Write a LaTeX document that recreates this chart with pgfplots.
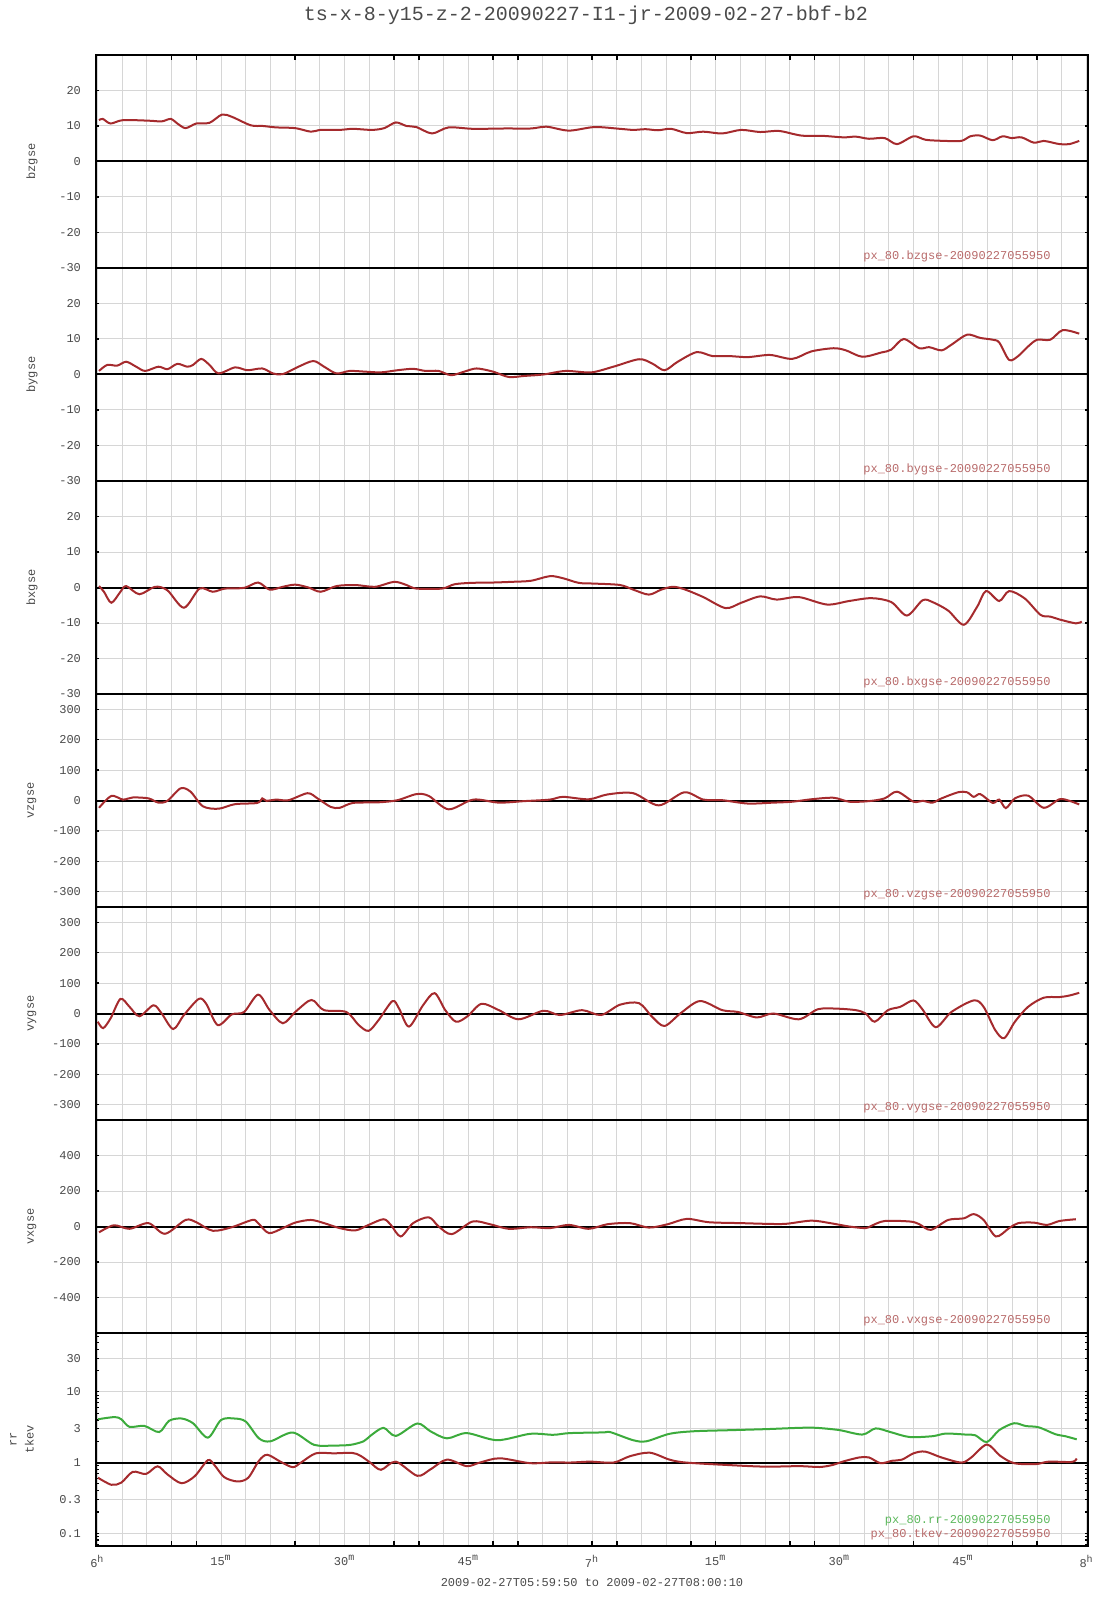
\documentclass[border=0pt]{standalone}
\usepackage{fontspec}
\setmainfont{Liberation Mono}
\usepackage{pgfplots}
\pgfplotsset{compat=1.18}
\definecolor{cred}{HTML}{A52A2D}
\definecolor{cgreen}{HTML}{3CAB3C}
\definecolor{lred}{HTML}{B86A6A}
\definecolor{lgreen}{HTML}{5CB85C}
\definecolor{gridc}{HTML}{D6D6D6}
\definecolor{txt}{HTML}{4A4A4A}
\newcommand{\tf}{\fontsize{6}{8.5}\selectfont}
\tikzset{leg/.style={anchor=east, font=\tf, text=lred, inner sep=0pt}}
\pgfplotsset{
  panel/.style={
    scale only axis, width=496pt, height=106.5pt,
    xmin=-0.1667, xmax=120.1667,
    xtick={0,3,...,120}, xticklabels={},
    grid=major, major grid style={gridc, line width=0.5pt},
    axis line style={black, line width=0.9pt},
    xtick style={draw=none},
    ytick style={black, line width=0.6pt},
    major tick length=1.5pt, minor tick length=1.5pt,
    tick align=inside,
    yticklabel style={font=\tf, text=txt, xshift=-4pt},
    /pgf/number format/assume math mode=true,
    every axis y label/.style={at={(rel axis cs:0,0.5)}, xshift=-32pt, rotate=90, anchor=center, font=\tf, text=txt, align=center},
  },
  curve/.style={cred, line width=1pt, smooth, tension=0.5},
  zeroline/.style={black, line width=1pt},
  oddticks/.style={
    extra x ticks={9,12,24,36,39,48,51,60,63,72,75,84,87,99,111,114},
    extra x tick labels={},
    extra x tick style={grid=none, xtick style={draw=black, line width=0.8pt}, major tick length=2.5pt},
  },
}
\begin{document}
\begin{tikzpicture}
\useasboundingbox (0,0) rectangle (553.5pt,-800pt);
\node[font=\fontsize{10}{12}\selectfont, text=txt] at (293pt,-7.6pt) {ts-x-8-y15-z-2-20090227-I1-jr-2009-02-27-bbf-b2};
\node[font=\tf, text=txt] at (296pt,-791.5pt) {2009-02-27T05:59:50 to 2009-02-27T08:00:10};

% Panel 1: bzgse
\begin{axis}[panel, oddticks, xtick pos=right, at={(48pt,-27.5pt)}, anchor=north west,
  ymin=-30, ymax=30, ytick={-30,-20,...,30}, yticklabels={-30,-20,-10,0,10,20,}, ylabel={bzgse}]
\addplot[zeroline] coordinates {(-1,0) (121,0)};
\addplot[curve] coordinates {
(0.2,11.65)(0.66,12)(1.6,10.7)(3.1,11.65)(6.2,11.5)(7.8,11.3)(8.9,12)(9.7,10.7)(10.7,9.4)(12.0,10.7)
(13.6,10.9)(15.1,13.2)(16.3,12.6)(18.6,10.2)(20.1,10)(21.7,9.6)(24.0,9.4)(25.9,8.4)(27.1,8.9)(29.4,8.9)
(31.0,9.2)(33.3,8.9)(34.8,9.4)(36.2,11)(37.5,10)(38.7,9.7)(40.6,7.9)(42.6,9.6)(45.6,9.2)(49.5,9.3)
(52.6,9.3)(54.5,9.8)(57.2,8.7)(60.3,9.7)(63.4,9.2)(65.0,8.9)(66.5,9.1)(68.0,8.8)(69.6,9.2)(71.5,8.0)
(73.5,8.4)(75.8,7.9)(78.1,8.9)(80.4,8.3)(82.7,8.6)(85.4,7.3)(88.1,7.2)(90.5,6.8)(92.0,7.0)(93.6,6.4)
(95.5,6.6)(97.0,4.9)(99.0,7.1)(100.5,6.1)(102.8,5.8)(104.8,5.8)(105.9,7.1)(107.1,7.3)(108.6,6.0)(109.8,7.1)
(110.9,6.6)(112.1,6.8)(113.6,5.3)(114.8,5.8)(116.7,4.9)(117.9,4.9)(119.1,5.8)};
\node[leg] at (rel axis cs:0.9627,0.056) {px\_80.bzgse-20090227055950};
\end{axis}

% Panel 2: bygse
\begin{axis}[panel, at={(48pt,-134pt)}, anchor=north west,
  ymin=-30, ymax=30, ytick={-30,-20,...,30}, yticklabels={-30,-20,-10,0,10,20,}, ylabel={bygse}]
\addplot[zeroline] coordinates {(-1,0) (121,0)};
\addplot[curve] coordinates {
(0.2,1.0)(1.2,2.7)(2.4,2.5)(3.5,3.6)(4.7,2.2)(5.8,1.0)(7.4,2.2)(8.5,1.5)(9.7,3.0)(10.9,2.2)
(11.6,2.7)(12.6,4.4)(13.6,2.7)(14.7,0.3)(16.7,2.0)(18.2,1.2)(20.0,1.7)(21.3,0.3)(22.5,0.1)(24.4,2.2)
(26.2,3.8)(27.5,2.2)(29.0,0.3)(30.6,1.0)(32.5,0.8)(34.4,0.6)(36.4,1.2)(38.3,1.6)(39.8,1.0)(41.4,1.0)
(42.9,-0.2)(44.5,0.8)(46.0,1.7)(48.0,0.8)(49.9,-0.7)(51.8,-0.4)(54.1,0)(56.8,1.0)(59.9,0.6)(62.6,2.2)
(65.7,4.3)(67.3,3.1)(68.8,1.2)(70.4,3.6)(72.7,6.3)(74.6,5.2)(76.6,5.2)(78.9,4.9)(81.6,5.5)(84.3,4.4)
(86.6,6.5)(89.3,7.4)(90.8,6.8)(92.8,5.0)(95.1,6.2)(96.3,7.0)(97.8,10.0)(99.7,7.4)(100.9,7.7)(102.4,6.8)
(103.6,8.4)(105.5,11.2)(107.1,10.3)(108.6,9.8)(109.4,9.0)(110.6,4.1)(111.7,5.2)(112.9,7.9)(114.0,9.8)(115.6,9.8)
(117.1,12.5)(119.1,11.5)};
\node[leg] at (rel axis cs:0.9627,0.056) {px\_80.bygse-20090227055950};
\end{axis}

% Panel 3: bxgse
\begin{axis}[panel, at={(48pt,-240.5pt)}, anchor=north west,
  ymin=-30, ymax=30, ytick={-30,-20,...,30}, yticklabels={-30,-20,-10,0,10,20,}, ylabel={bxgse}]
\addplot[zeroline] coordinates {(-1,0) (121,0)};
\addplot[curve] coordinates {
(0.2,0.4)(0.8,-1.2)(1.7,-4.3)(2.8,-1.2)(3.5,0.4)(5.1,-1.9)(7.0,0.2)(8.5,-0.8)(10.5,-5.7)(12.4,-0.3)
(14.0,-1.2)(15.5,-0.3)(17.8,-0.1)(19.5,1.4)(20.9,-0.6)(22.5,0.2)(24.0,0.8)(25.6,0)(27.1,-1.2)(29.0,0.4)
(31.3,0.7)(33.7,0.2)(36.0,1.6)(37.5,0.7)(38.7,-0.3)(41.8,-0.3)(43.3,0.9)(45.3,1.3)(48.0,1.4)(50.3,1.6)
(52.6,1.9)(54.9,3.2)(56.5,2.6)(58.4,1.3)(60.3,1.1)(63.4,0.7)(65.0,-0.6)(66.9,-2.0)(68.4,-0.6)(69.8,0.2)
(71.2,-0.5)(73.5,-2.7)(76.2,-5.8)(78.1,-4.3)(80.4,-2.5)(82.4,-3.4)(85.1,-2.7)(88.5,-4.8)(91.2,-3.8)(93.9,-3.0)
(96.3,-4.1)(98.2,-7.9)(100.1,-3.6)(101.3,-4.1)(103.2,-6.5)(105.1,-10.5)(106.7,-5.5)(107.8,-1.0)(109.4,-3.8)(110.6,-1.0)
(112.5,-3.1)(114.4,-7.7)(115.6,-8.2)(116.7,-9.0)(118.7,-10.1)(119.4,-9.6)};
\node[leg] at (rel axis cs:0.9627,0.056) {px\_80.bxgse-20090227055950};
\end{axis}

% Panel 4: vzgse
\begin{axis}[panel, at={(48pt,-347pt)}, anchor=north west,
  ymin=-350, ymax=350, ytick={-300,-200,...,300}, ylabel={vzgse}]
\addplot[zeroline] coordinates {(-1,0) (121,0)};
\addplot[curve] coordinates {
(0.2,-24)(1.7,15)(3.1,3)(4.3,10)(6.2,7)(7.4,-7)(8.5,-1)(10.1,40)(11.3,29)(12.8,-19)
(14.7,-27)(16.7,-12)(19.4,-8)(20.0,7)(20.5,-1)(21.7,3)(23.2,1)(25.5,24)(26.7,7)(28.3,-21)
(29.4,-24)(31.0,-8)(34.1,-6)(36.4,1)(38.7,21)(40.2,15)(42.6,-29)(45.6,3)(48.7,-7)(51.8,-2)
(54.9,3)(56.5,12)(59.6,4)(61.9,20)(65.0,24)(68.1,-16)(71.2,27)(73.5,3)(75.8,1)(78.9,-10)
(82.0,-7)(84.3,-4)(86.6,4)(89.3,9)(91.2,-4)(93.6,-2)(95.5,7)(97.0,29)(99.0,-4)(100.1,-1)
(101.3,-7)(102.4,7)(104.4,27)(105.5,27)(106.3,12)(107.1,21)(108.6,-8)(109.4,3)(110.2,-25)(111.3,7)
(112.9,16)(114.8,-24)(116.7,4)(117.9,-1)(119.1,-13)};
\node[leg] at (rel axis cs:0.9627,0.056) {px\_80.vzgse-20090227055950};
\end{axis}

% Panel 5: vygse
\begin{axis}[panel, at={(48pt,-453.5pt)}, anchor=north west,
  ymin=-350, ymax=350, ytick={-300,-200,...,300}, ylabel={vygse}]
\addplot[zeroline] coordinates {(-1,0) (121,0)};
\addplot[curve] coordinates {
(0.05,-27)(0.7,-48)(1.6,-16)(2.8,48)(3.9,22)(5.1,-9)(6.8,27)(7.8,0)(9.2,-51)(10.5,-5)
(12.3,48)(13.2,32)(14.6,-38)(16.3,-3)(17.8,5)(19.5,62)(20.9,11)(22.5,-32)(24.0,5)(25.6,41)
(26.3,41)(27.5,11)(30.2,5)(31.7,-38)(32.9,-57)(34.1,-22)(35.8,41)(36.6,16)(37.8,-43)(39.5,27)
(40.9,67)(42.2,11)(43.5,-27)(44.9,-9)(46.6,32)(48.7,11)(51.1,-19)(54.1,9)(56.1,-5)(58.8,11)
(61.1,-5)(63.4,29)(65.7,34)(67.3,-11)(68.8,-41)(70.8,2)(73.1,41)(75.8,11)(77.7,5)(80.0,-13)
(82.0,0)(85.1,-19)(87.4,14)(89.7,16)(92.0,11)(93.2,0)(94.3,-27)(95.9,11)(97.4,22)(99.0,43)
(100.1,13)(101.7,-45)(103.6,5)(106.3,43)(107.5,22)(108.9,-54)(110.0,-81)(111.3,-27)(112.9,22)(114.8,52)
(116.7,54)(117.9,59)(119.1,68)};
\node[leg] at (rel axis cs:0.9627,0.056) {px\_80.vygse-20090227055950};
\end{axis}

% Panel 6: vxgse
\begin{axis}[panel, at={(48pt,-560pt)}, anchor=north west,
  ymin=-600, ymax=600, ytick={-400,-200,...,400}, ylabel={vxgse}]
\addplot[zeroline] coordinates {(-1,0) (121,0)};
\addplot[curve] coordinates {
(0.2,-33)(2.0,7)(3.9,-13)(6.2,19)(8.2,-41)(10.7,37)(12.0,24)(14.0,-24)(16.3,-4)(18.8,37)
(19.5,19)(20.8,-37)(22.5,-9)(24.0,22)(25.9,37)(27.5,19)(29.4,-9)(31.3,-22)(32.9,9)(34.7,41)
(35.6,9)(36.8,-56)(38.3,19)(40.2,52)(41.4,0)(43.0,-43)(45.5,28)(47.6,13)(49.9,-13)(52.6,-4)
(54.9,-9)(57.2,9)(59.6,-13)(61.9,13)(64.6,19)(66.9,-6)(69.2,13)(71.5,43)(74.2,24)(78.1,19)
(81.2,15)(83.5,15)(86.6,33)(88.9,19)(91.2,0)(93.2,-9)(93.9,4)(95.5,31)(98.6,28)(99.7,13)
(101.1,-19)(103.2,37)(105.1,46)(106.3,70)(107.5,37)(109.0,-56)(110.6,-9)(111.7,19)(113.6,22)(115.2,9)
(116.7,31)(118.7,41)};
\node[leg] at (rel axis cs:0.9627,0.056) {px\_80.vxgse-20090227055950};
\end{axis}

% Panel 7: rr, tkev (log)
\begin{axis}[panel, oddticks, xtick pos=left, at={(48pt,-666.5pt)}, anchor=north west,
  ymode=log, ymin=0.066, ymax=68, ytick={0.1,0.3,1,3,10,30}, yticklabels={0.1,0.3,1,3,10,30},
  minor ytick={0.07,0.08,0.09,0.2,0.4,0.5,0.6,0.7,0.8,0.9,2,4,5,6,7,8,9,20,40,50,60},
  every axis y label/.style={at={(rel axis cs:0,0.5)}, xshift=-37pt, rotate=90, anchor=center, font=\tf, text=txt, align=center},
  ylabel={rr\\tkev},
  xticklabels={6\textsuperscript{h},,,,,15\textsuperscript{m},,,,,30\textsuperscript{m},,,,,45\textsuperscript{m},,,,,7\textsuperscript{h},,,,,15\textsuperscript{m},,,,,30\textsuperscript{m},,,,,45\textsuperscript{m},,,,,8\textsuperscript{h}},
  xticklabel style={font=\tf, text=txt, yshift=-1pt}]
\addplot[zeroline] coordinates {(-1,1) (121,1)};
\addplot[curve, cgreen] coordinates {
(0.08,4.1)(2.1,4.4)(2.9,4.1)(3.9,3.2)(5.7,3.3)(7.5,2.7)(8.7,3.9)(10.2,4.2)(11.6,3.6)(13.4,2.25)
(15.0,4.0)(16.6,4.2)(18.0,3.8)(19.6,2.2)(21.0,2.0)(23.7,2.66)(26.3,1.78)(28.7,1.74)(30.7,1.78)(32.3,2.0)
(33.1,2.38)(34.7,3.1)(36.2,2.38)(38.8,3.57)(40.4,2.77)(42.4,2.2)(44.8,2.61)(48.5,2.07)(52.5,2.55)(55.3,2.47)
(57.3,2.61)(61.4,2.67)(62.2,2.7)(65.0,2.07)(66.6,2.0)(69.4,2.55)(72.3,2.77)(76.7,2.87)(81.1,2.97)(85.2,3.1)
(87.2,3.1)(90.0,2.88)(92.8,2.49)(94.4,3.04)(96.2,2.7)(98.5,2.3)(101.3,2.36)(102.9,2.57)(105.3,2.49)(106.5,2.43)
(107.9,1.95)(109.4,2.88)(111.2,3.6)(112.6,3.29)(114.2,3.15)(116.2,2.52)(117.4,2.36)(118.8,2.13)};
\addplot[curve] coordinates {
(0.08,0.61)(1.7,0.485)(2.9,0.52)(4.3,0.74)(5.9,0.69)(7.3,0.885)(8.5,0.68)(10.2,0.51)(11.8,0.64)(13.4,1.08)
(14.2,0.92)(15.4,0.62)(17.0,0.54)(18.3,0.61)(19.6,1.06)(20.6,1.29)(22.2,1.03)(23.7,0.86)(24.7,1.0)(26.5,1.35)
(28.7,1.35)(30.9,1.37)(31.9,1.25)(33.1,1.0)(34.4,0.79)(36.2,1.03)(38.8,0.65)(40.4,0.80)(42.4,1.1)(44.8,0.89)
(46.4,1.0)(48.8,1.15)(52.5,0.98)(55.3,1.01)(57.3,1.0)(59.8,1.03)(62.6,1.0)(64.6,1.23)(67.0,1.38)(69.4,1.1)
(71.4,1.0)(76.7,0.92)(81.1,0.875)(85.2,0.89)(87.6,0.865)(89.2,0.925)(90.4,1.03)(92.4,1.18)
(93.6,1.18)(95.0,0.98)(96.4,1.06)(97.6,1.1)(99.0,1.35)(100.4,1.43)(102.4,1.18)(104.8,1.0)(106.0,1.18)(107.9,1.8)
(109.5,1.25)(111.2,0.98)(113.8,0.95)(115.4,1.03)(118.2,1.02)(118.8,1.14)};
\node[leg, text=lgreen] at (rel axis cs:0.9627,0.117) {px\_80.rr-20090227055950};
\node[leg] at (rel axis cs:0.9627,0.056) {px\_80.tkev-20090227055950};
\end{axis}
\end{tikzpicture}
\end{document}
